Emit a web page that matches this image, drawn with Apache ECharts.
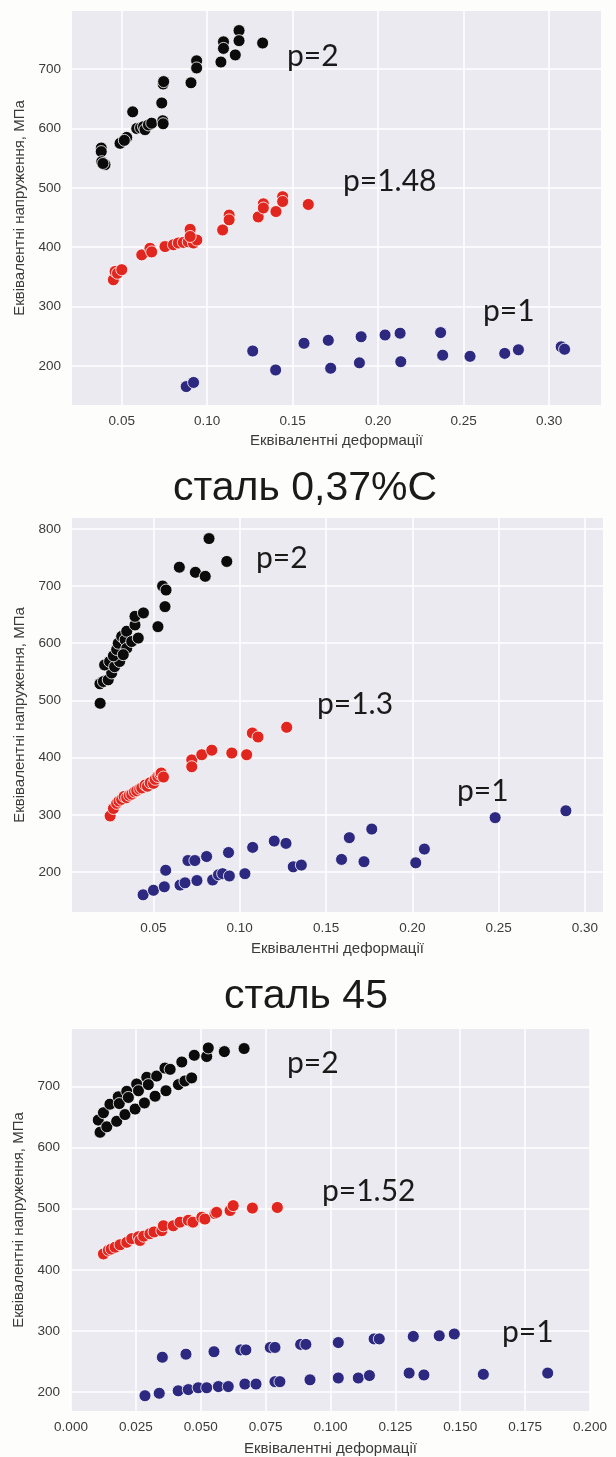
<!DOCTYPE html>
<html>
<head>
<meta charset="utf-8">
<title>сталь</title>
<script src="https://cdn.jsdelivr.net/npm/echarts@6/dist/echarts.min.js"></script>
<style>
html, body { margin: 0; padding: 0; background: #fdfdfb; }
#chart { width: 616px; height: 1457px; }
</style>
</head>
<body>
<div id="chart"></div>
<script>
// ---------- дані: [деформація, напруження] ----------
// графік 1 (верхній)
var g1_p2 = [[0.038, 567], [0.038, 561], [0.0383, 544], [0.0402, 539], [0.039, 541],
	[0.049, 575], [0.0529, 585], [0.0515, 580], [0.0564, 628],
	[0.0588, 600], [0.061, 601], [0.0627, 603], [0.0636, 598], [0.0656, 606], [0.0675, 609],
	[0.0734, 643], [0.074, 613], [0.0742, 608], [0.0742, 675], [0.0745, 679],
	[0.0905, 677], [0.0938, 714], [0.0938, 702], [0.108, 712], [0.1095, 746], [0.1095, 735],
	[0.1164, 724], [0.1186, 765], [0.1186, 748], [0.1324, 744]];
var g1_p148 = [[0.0451, 345], [0.0461, 359], [0.0475, 356], [0.05, 362],
	[0.0617, 387], [0.0665, 398], [0.0675, 392], [0.0753, 401],
	[0.0802, 404], [0.0831, 407], [0.086, 408], [0.0889, 409], [0.0919, 407], [0.0939, 412],
	[0.09, 430], [0.09, 418], [0.109, 429], [0.1128, 454], [0.1128, 446], [0.1298, 451],
	[0.1328, 473], [0.1328, 466], [0.1402, 460], [0.1441, 485], [0.1441, 477], [0.1591, 472]];
var g1_p1 = [[0.0877, 165], [0.092, 172], [0.1266, 225], [0.14, 193], [0.1566, 238],
	[0.1708, 243], [0.1722, 196], [0.19, 249], [0.189, 205], [0.204, 252],
	[0.2128, 255], [0.2132, 207], [0.2365, 256], [0.2377, 218], [0.2537, 216],
	[0.274, 221], [0.282, 227], [0.307, 232], [0.309, 228]];

// графік 2 (сталь 0,37%С)
var g2_p2 = [[0.0191, 495], [0.019, 529], [0.021, 533], [0.0238, 536], [0.0258, 548],
	[0.0217, 562], [0.0246, 568], [0.0275, 559], [0.0304, 568], [0.0268, 578],
	[0.0287, 589], [0.0296, 600], [0.0316, 612], [0.0336, 606], [0.0345, 621],
	[0.0345, 591], [0.0325, 580], [0.0374, 603], [0.0393, 632], [0.0393, 647],
	[0.0442, 653], [0.0412, 609], [0.0526, 629], [0.0567, 664], [0.0553, 700],
	[0.0573, 693], [0.065, 733], [0.0743, 724], [0.08, 717], [0.0822, 783], [0.0925, 743]];
var g2_p13 = [[0.0249, 298], [0.0268, 311], [0.0287, 320], [0.03, 324], [0.0316, 327],
	[0.033, 332], [0.0345, 330], [0.036, 334], [0.0374, 336], [0.039, 340], [0.0403, 342],
	[0.042, 345], [0.0432, 347], [0.0452, 352], [0.0465, 350], [0.0481, 356], [0.05, 355],
	[0.051, 362], [0.0525, 367], [0.0538, 371], [0.0545, 373], [0.0558, 366],
	[0.0722, 396], [0.0722, 384], [0.078, 405], [0.0838, 413], [0.0954, 408], [0.104, 405],
	[0.1073, 443], [0.1106, 436], [0.1272, 453]];
var g2_p1 = [[0.044, 160], [0.05, 168], [0.0563, 174], [0.0571, 203], [0.0654, 177],
	[0.0683, 181], [0.07, 220], [0.074, 220], [0.0752, 185], [0.0808, 227], [0.0843, 186],
	[0.0877, 195], [0.0901, 197], [0.094, 193], [0.0935, 234], [0.103, 197], [0.1075, 243],
	[0.12, 254], [0.1268, 250], [0.131, 209], [0.1357, 212], [0.159, 222], [0.1635, 260],
	[0.172, 218], [0.1765, 275], [0.202, 216], [0.207, 240], [0.248, 295], [0.289, 307]];

// графік 3 (сталь 45)
var g3_p2 = [[0.0105, 645], [0.0125, 657], [0.015, 671], [0.0182, 683], [0.0186, 672],
	[0.0215, 692], [0.0221, 682], [0.0253, 704], [0.026, 693], [0.0292, 715], [0.0298, 703],
	[0.033, 717], [0.0362, 730], [0.0382, 728], [0.0427, 740], [0.0475, 751], [0.0523, 749],
	[0.0529, 763], [0.0591, 757], [0.0667, 762],
	[0.0112, 625], [0.0138, 634], [0.0176, 643], [0.0208, 654], [0.0247, 663], [0.0283, 673],
	[0.0324, 684], [0.0366, 693], [0.0414, 703], [0.0439, 709], [0.0465, 714]];
var g3_p152 = [[0.0125, 426], [0.0144, 432], [0.0155, 434], [0.017, 437], [0.0189, 441],
	[0.0215, 445], [0.0234, 451], [0.026, 454], [0.0266, 448], [0.028, 455], [0.0304, 459],
	[0.032, 462], [0.035, 464], [0.0356, 472], [0.0394, 472], [0.042, 478], [0.0452, 481],
	[0.047, 478], [0.0504, 486], [0.0516, 483], [0.0555, 492], [0.0561, 494], [0.0613, 497],
	[0.0625, 505], [0.0699, 501], [0.0795, 502]];
var g3_p1 = [[0.0352, 257], [0.0443, 262], [0.0551, 266], [0.0654, 269], [0.0674, 269],
	[0.0768, 273], [0.0786, 273], [0.0885, 278], [0.0905, 278], [0.103, 281],
	[0.1168, 287], [0.1188, 287], [0.1319, 291], [0.1419, 292], [0.1477, 295],
	[0.0285, 194], [0.034, 198], [0.0413, 202], [0.0452, 204], [0.049, 207], [0.0523, 207],
	[0.0568, 209], [0.0606, 209], [0.067, 213], [0.0713, 213], [0.0786, 217], [0.0805, 217],
	[0.0921, 220], [0.103, 223], [0.1107, 223], [0.115, 227], [0.1303, 231], [0.136, 228],
	[0.1589, 229], [0.1837, 231]];

// підписи осей
var g1_xTicks = [0.05, 0.10, 0.15, 0.20, 0.25, 0.30];
var g1_yTicks = [200, 300, 400, 500, 600, 700];
var g2_xTicks = [0.05, 0.10, 0.15, 0.20, 0.25, 0.30];
var g2_yTicks = [200, 300, 400, 500, 600, 700, 800];
var g3_xTicks = [0, 0.025, 0.05, 0.075, 0.1, 0.125, 0.15, 0.175, 0.2];
var g3_yTicks = [200, 300, 400, 500, 600, 700];

var titles = ['сталь 0,37%С', 'сталь 45'];
var xName = 'Еквівалентні деформації';
var yName = 'Еквівалентні напруження, МПа';

var main = {
	colors: ['#0b0b0b', '#e1261f', '#2d2980'],
	font: '"Liberation Sans", Arial, sans-serif',

	init: function() {
		var myChart = echarts.init(document.getElementById('chart'));
		var grids = [], xAxes = [], yAxes = [], series = [];

		var panels = [
			{box: [72, 11, 529, 394], x: [0.0209, 0.3303], y: [134, 798], xt: g1_xTicks, yt: g1_yTicks, dig: 2, gap: 28, data: [g1_p2, g1_p148, g1_p1]},
			{box: [72, 518, 531, 394], x: [0.0028, 0.3105], y: [130, 819], xt: g2_xTicks, yt: g2_yTicks, dig: 2, gap: 29, data: [g2_p2, g2_p13, g2_p1]},
			{box: [71, 1029, 519, 384], x: [0, 0.2], y: [169, 794], xt: g3_xTicks, yt: g3_yTicks, dig: 3, gap: 30, data: [g3_p2, g3_p152, g3_p1]}
		];

		panels.forEach(function(p, i) {
			grids.push({
				left: p.box[0], top: p.box[1], width: p.box[2], height: p.box[3],
				show: true, backgroundColor: '#eceaf1', borderWidth: 0
			});
			xAxes.push(main.axis('x', i, p.x, p.xt, p.dig, p.gap));
			yAxes.push(main.axis('y', i, p.y, p.yt, 0, 44));
			p.data.forEach(function(d, k) {
				series.push({
					type: 'scatter',
					xAxisIndex: i,
					yAxisIndex: i,
					symbolSize: 12,
					itemStyle: {
						color: main.colors[k],
						borderColor: '#ffffff',
						borderWidth: 0.8,
						opacity: 1
					},
					data: d
				});
			});
		});

		var option = {
			animation: false,
			grid: grids,
			xAxis: xAxes,
			yAxis: yAxes,
			series: series,
			graphic: main.texts()
		};
		myChart.setOption(option);
	},

	axis: function(dim, i, range, ticks, dig, gap) {
		return {
			type: 'value',
			gridIndex: i,
			min: range[0],
			max: range[1],
			name: dim == 'x' ? xName : yName,
			nameLocation: 'middle',
			nameGap: gap,
			nameTextStyle: {fontSize: 15, color: '#3a3a3a', fontFamily: main.font},
			axisLine: {show: false},
			axisTick: {show: false, customValues: ticks},
			axisLabel: {
				customValues: ticks,
				margin: dim == 'x' ? 9 : 11,
				fontSize: 13.5,
				color: '#3a3a3a',
				fontFamily: main.font,
				formatter: function(v) { return v.toFixed(dig); }
			},
			splitLine: {show: true, lineStyle: {color: '#ffffff', width: 1.5}}
		};
	},

	texts: function() {
		var pFont = '30px Lato, "Open Sans", sans-serif';
		var items = [
			// заголовки
			{x: 305, y: 489, text: titles[0], font: '41px "Liberation Sans", Arial, sans-serif', align: 'center'},
			{x: 306, y: 997, text: titles[1], font: '41px "Liberation Sans", Arial, sans-serif', align: 'center'},
			// підписи серій
			{x: 287, y: 56, text: 'p=2'},
			{x: 343, y: 181, text: 'p=1.48'},
			{x: 483, y: 311, text: 'p=1'},
			{x: 256, y: 558, text: 'p=2'},
			{x: 317, y: 704, text: 'p=1.3'},
			{x: 457, y: 791, text: 'p=1'},
			{x: 287, y: 1063, text: 'p=2'},
			{x: 322, y: 1191, text: 'p=1.52'},
			{x: 502, y: 1332, text: 'p=1'}
		];
		return items.map(function(t) {
			return {
				type: 'text',
				x: t.x,
				y: t.y,
				z: 100,
				style: {
					text: t.text,
					font: t.font || pFont,
					fill: '#1a1a1a',
					align: t.align || 'left',
					verticalAlign: 'middle'
				}
			};
		});
	}
}

main.init()
</script>
</body>
</html>
